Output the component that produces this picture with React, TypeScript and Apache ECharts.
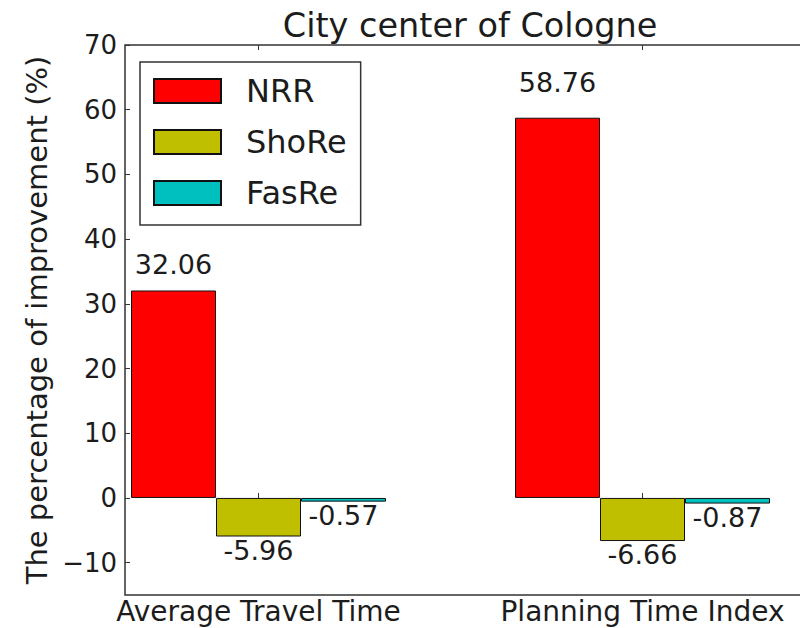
import React, { useEffect, useRef } from "react";
import * as echarts from "echarts";

const title = "City center of Cologne";
const yName = "The percentage of improvement (%)";
const categories = ["Average Travel Time", "Planning Time Index"];
const seriesNames = ["NRR", "ShoRe", "FasRe"];
const nrr = [32.06, 58.76];
const shore = [-5.96, -6.66];
const fasre = [-0.57, -0.87];
const yTicks = [-10, 0, 10, 20, 30, 40, 50, 60, 70];
const yMin = -15;
const yMax = 70;

const colors = ["#ff0000", "#bfbf00", "#00bfbf"];
const FONT = "DejaVu Sans";
const TEXT = "#1c1c1c";
const W = 800;
const H = 628;
const GRID_TOP = 45;
const GRID_BOTTOM = 33;
const GRID_H = H - GRID_TOP - GRID_BOTTOM;
const pxPerUnit = GRID_H / (yMax - yMin);

function mkSeries(name: string, values: number[], color: string) {
  return {
    type: "bar",
    name,
    xAxisIndex: 1,
    yAxisIndex: 1,
    barWidth: 85,
    barGap: "0%",
    itemStyle: { color, borderColor: "#111", borderWidth: 1 },
    label: {
      show: true,
      fontSize: 27,
      fontFamily: FONT,
      color: TEXT,
      formatter: (p: any) => Number(p.value).toFixed(2),
    },
    data: values.map((v) => ({
      value: v,
      label:
        v >= 0
          ? { position: "top", distance: 0.05 * v * pxPerUnit + 2.5 }
          : { position: "bottom", distance: 0 },
    })),
  };
}

export default function App() {
  const ref = useRef<HTMLDivElement>(null);
  useEffect(() => {
    if (!ref.current) return;
    const chart = echarts.init(ref.current, undefined, { renderer: "svg" });
    const tick = {
      show: true,
      inside: true,
      length: 5,
      alignWithLabel: true,
      lineStyle: { color: "#333", width: 1 },
    };
    chart.setOption({
      animation: false,
      backgroundColor: "#fff",
      graphic: [
        {
          type: "text",
          x: 470,
          y: 25,
          style: {
            text: title,
            fontSize: 33.5,
            fontFamily: FONT,
            fill: TEXT,
            align: "center",
            verticalAlign: "middle",
            textAlign: "center",
            textVerticalAlign: "middle",
          },
        },
      ],
      grid: [
        {
          left: 125,
          width: 690,
          top: GRID_TOP,
          height: GRID_H,
          outerBoundsMode: "none",
          containLabel: false,
          show: true,
          borderColor: "#333",
          borderWidth: 1.5,
          backgroundColor: "transparent",
        },
        {
          left: 66.5,
          width: 768,
          top: GRID_TOP,
          height: GRID_H,
          outerBoundsMode: "none",
          containLabel: false,
        },
      ],
      legend: {
        show: true,
        data: seriesNames,
        orient: "vertical",
        left: 140,
        top: 62,
        itemWidth: 67,
        itemHeight: 24,
        itemGap: 19,
        padding: [13, 14, 16, 13],
        borderColor: "#333",
        borderWidth: 1.5,
        borderRadius: 0,
        backgroundColor: "#fff",
        icon: "rect",
        selectedMode: false,
        textStyle: {
          fontSize: 32,
          fontFamily: FONT,
          color: TEXT,
          padding: [0, 0, 0, 20],
        },
      },
      xAxis: [
        { gridIndex: 0, type: "value", show: false, min: 0, max: 1 },
        {
          gridIndex: 1,
          type: "category",
          data: categories,
          position: "bottom",
          axisLine: { show: false },
          axisTick: tick,
          axisLabel: {
            fontSize: 28,
            lineHeight: 24,
            fontFamily: FONT,
            color: TEXT,
            margin: 4,
          },
        },
        {
          gridIndex: 1,
          type: "category",
          data: categories,
          position: "top",
          axisLine: { show: false },
          axisTick: tick,
          axisLabel: { show: false },
        },
      ],
      yAxis: [
        {
          gridIndex: 0,
          type: "value",
          min: yMin,
          max: yMax,
          position: "left",
          axisLine: { show: false },
          splitLine: { show: false },
          axisTick: {
            show: true,
            inside: true,
            length: 5,
            customValues: yTicks,
            lineStyle: { color: "#333", width: 1 },
          },
          axisLabel: {
            customValues: yTicks,
            fontSize: 26,
            fontFamily: FONT,
            color: TEXT,
            margin: 8,
            formatter: (v: number) => String(v).replace("-", "\u2212"),
          },
          name: yName,
          nameLocation: "middle",
          nameRotate: 90,
          nameGap: 73,
          nameTextStyle: { fontSize: 29, fontFamily: FONT, color: TEXT },
        },
        { gridIndex: 1, type: "value", min: yMin, max: yMax, show: false },
      ],
      series: [
        mkSeries(seriesNames[0], nrr, colors[0]),
        mkSeries(seriesNames[1], shore, colors[1]),
        mkSeries(seriesNames[2], fasre, colors[2]),
      ],
    });
    return () => chart.dispose();
  }, []);
  return (
    <div
      ref={ref}
      style={{ position: "fixed", left: 0, top: 0, width: W, height: H }}
    />
  );
}
